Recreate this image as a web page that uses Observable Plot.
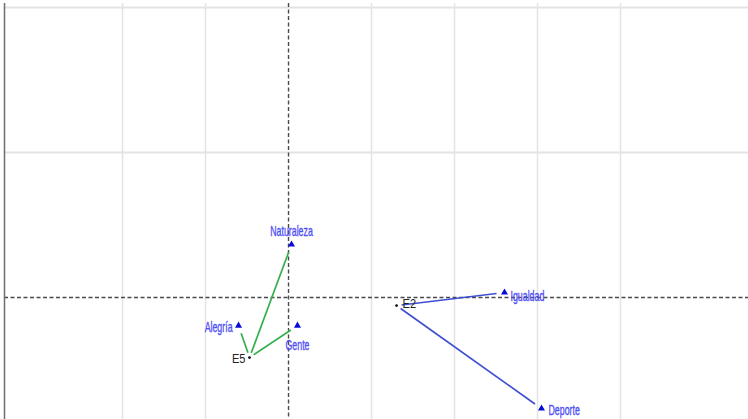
<!DOCTYPE html>
<html>
<head>
<meta charset="utf-8">
<script src="https://cdn.jsdelivr.net/npm/d3@7"></script>
<script src="https://cdn.jsdelivr.net/npm/@observablehq/plot@0.6"></script>
<style>
  html, body { margin: 0; padding: 0; background: #fff; }
  #chart svg { display: block; }
</style>
</head>
<body>
<div id="chart"></div>
<script>
// Categories (column profiles) and their map coordinates
const categories = ["Naturaleza", "Alegría", "Gente", "Igualdad", "Deporte"];
const catX = [0.018, -0.301, 0.054, 1.301, 1.524];
const catY = [0.183, -0.097, -0.097, 0.017, -0.383];

// Respondents (row profiles) and their map coordinates
const rows = ["E5", "E2"];
const rowX = [-0.235, 0.651];
const rowY = [-0.207, -0.028];

// Which category each row is joined to
const linkFrom = ["E5", "E5", "E5", "E2", "E2"];
const linkTo = ["Naturaleza", "Alegría", "Gente", "Igualdad", "Deporte"];

// Grid ticks
const xTicks = [-1.0, -0.5, 0.5, 1.0, 1.5, 2.0];
const yTicks = [0.5, 1.0];

const xDomain = [-1.711, 2.771];
const yDomain = [-0.4207, 1.0138];

const cats = categories.map((name, i) => ({name, x: catX[i], y: catY[i]}));
const pts = rows.map((name, i) => ({name, x: rowX[i], y: rowY[i]}));
const catBy = new Map(cats.map(d => [d.name, d]));
const ptBy = new Map(pts.map(d => [d.name, d]));
const links = linkFrom.map((f, i) => ({
  from: f, to: linkTo[i],
  x1: ptBy.get(f).x, y1: ptBy.get(f).y,
  x2: catBy.get(linkTo[i]).x, y2: catBy.get(linkTo[i]).y
}));

const lineColor = {E5: "#35b04f", E2: "#3f4fd2"};

// Label placement per category and per row point
const place = {
  "Naturaleza": {anchor: "middle", dx: 0, dy: -13},
  "Alegría": {anchor: "end", dx: -6, dy: 2},
  "Gente": {anchor: "middle", dx: 0, dy: 20},
  "Igualdad": {anchor: "start", dx: 6, dy: 4},
  "Deporte": {anchor: "start", dx: 7, dy: 2},
  "E5": {anchor: "end", dx: -4, dy: 1},
  "E2": {anchor: "start", dx: 6, dy: -2}
};
const font = "'Liberation Sans', Arial, sans-serif";

const catLabels = cats.map(d => Plot.text([d], {
  x: "x", y: "y", text: "name",
  textAnchor: place[d.name].anchor,
  dx: place[d.name].dx, dy: place[d.name].dy,
  fill: "#4f4ff5", stroke: "#4f4ff5", strokeWidth: 0.35,
  fontSize: 14, fontFamily: font, className: "cat-label"
}));
const rowLabels = pts.map(d => Plot.text([d], {
  x: "x", y: "y", text: "name",
  textAnchor: place[d.name].anchor,
  dx: place[d.name].dx, dy: place[d.name].dy,
  fill: "#222", fontSize: 13, fontFamily: font, className: "row-label"
}));

const plot = Plot.plot({
  width: 748,
  height: 419,
  marginLeft: 4,
  marginRight: 0,
  marginTop: 3,
  marginBottom: 0,
  x: {domain: xDomain, axis: null},
  y: {domain: yDomain, axis: null},
  marks: [
    Plot.ruleX(xTicks, {stroke: "#e3e3e3", strokeWidth: 1.5}),
    Plot.ruleY(yTicks, {stroke: "#e3e3e3", strokeWidth: 2}),
    Plot.ruleX([0], {stroke: "#4a4a4a", strokeWidth: 1.4, strokeDasharray: "4,2.5"}),
    Plot.ruleY([0], {stroke: "#4a4a4a", strokeWidth: 1.4, strokeDasharray: "4,2.5"}),
    Plot.ruleX([xDomain[0]], {stroke: "#6e6e6e", strokeWidth: 1.5}),
    Plot.arrow(links, {
      x1: "x1", y1: "y1", x2: "x2", y2: "y2",
      stroke: d => lineColor[d.from], strokeWidth: 1.7,
      headLength: 0, insetStart: 5, insetEnd: 8, strokeLinecap: "butt"
    }),
    Plot.dot(cats, {x: "x", y: "y", symbol: "triangle", r: 2.6, fill: "#0a0ad8", stroke: "none"}),
    Plot.dot(pts, {x: "x", y: "y", r: 1.4, fill: "#111", stroke: "none"}),
    ...catLabels,
    ...rowLabels
  ]
});

// Narrow the label glyphs horizontally around their anchor point
function narrow(selector, k) {
  plot.querySelectorAll(selector + " text").forEach(t => {
    const tr = t.getAttribute("transform");
    if (tr) {
      t.setAttribute("transform", `${tr} scale(${k},1)`);
    } else {
      const x = +t.getAttribute("x") || 0, y = +t.getAttribute("y") || 0;
      t.removeAttribute("x"); t.removeAttribute("y");
      t.setAttribute("transform", `translate(${x},${y}) scale(${k},1)`);
    }
  });
}
narrow(".cat-label", 0.63);
narrow(".row-label", 0.85);
document.getElementById("chart").appendChild(plot);
</script>
</body>
</html>
